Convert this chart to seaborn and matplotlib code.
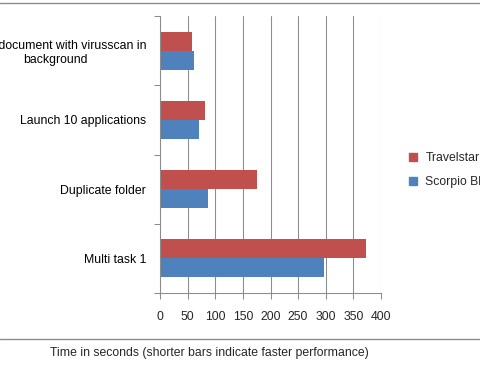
import pandas as pd
import matplotlib.pyplot as plt
import seaborn as sns
from matplotlib.lines import Line2D
from matplotlib.ticker import FixedLocator

# data
tasks = ["Open document with virusscan in\nbackground", "Launch 10 applications",
         "Duplicate folder", "Multi task 1"]
travelstar = [58, 81, 175, 373]
scorpio = [61, 70, 87, 296]
drives = ["Travelstar", "Scorpio Black"]
colors = ["#C0504D", "#4F81BD"]

df = pd.DataFrame({
    "task": tasks * 2,
    "drive": [drives[0]] * len(tasks) + [drives[1]] * len(tasks),
    "seconds": travelstar + scorpio,
})

sns.set_style("white")
plt.rcParams["font.family"] = ["Liberation Sans", "DejaVu Sans"]

fig = plt.figure(figsize=(4.8, 3.7), dpi=100)
ax = fig.add_axes([160 / 480, 1 - 293 / 370, 221 / 480, 277 / 370])

sns.barplot(data=df, y="task", x="seconds", hue="drive", hue_order=drives,
            palette=colors, orient="h", width=0.55, gap=0, saturation=1,
            linewidth=0, ax=ax, legend=False)

ax.set_xlim(0, 400)
ax.set_ylim(3.5, -0.5)
ax.set_xticks(range(0, 401, 50))
ax.xaxis.grid(True, color="#8c8c8c", linewidth=0.75)
ax.set_axisbelow(True)
ax.set_xlabel("")
ax.set_ylabel("")

# category separators as ticks on the y axis
ax.yaxis.set_minor_locator(FixedLocator([-0.5, 0.5, 1.5, 2.5, 3.5]))
ax.tick_params(axis="y", which="major", length=0, pad=10, labelsize=8.8, colors="black")
ax.tick_params(axis="y", which="minor", direction="out", length=4, width=0.75, color="#8c8c8c", left=True)
ax.tick_params(axis="x", direction="out", length=4, width=0.75, color="#8c8c8c",
               bottom=True, pad=9, labelsize=8.8)
for lab in ax.get_yticklabels():
    lab.set_multialignment("center")

for side in ["top", "right"]:
    ax.spines[side].set_visible(False)
for side in ["left", "bottom"]:
    ax.spines[side].set_color("#8c8c8c")
    ax.spines[side].set_linewidth(0.75)

handles = [Line2D([], [], marker="s", linestyle="", markersize=6,
                  markerfacecolor=c, markeredgecolor=c) for c in colors]
fig.legend(handles, drives, loc="center left", bbox_to_anchor=(396 / 480, 1 - 170 / 370),
           frameon=False, fontsize=8.8, handletextpad=0.0, labelspacing=1.0,
           borderaxespad=0)

# chart frame edges
fig.add_artist(Line2D([0, 1], [1 - 2.5 / 370] * 2, color="#8c8c8c", linewidth=1))
fig.add_artist(Line2D([0, 1], [1 - 339 / 370] * 2, color="#8c8c8c", linewidth=1))

fig.text(209 / 480, 1 - 353 / 370, "Time in seconds (shorter bars indicate faster performance)",
         ha="center", va="center", fontsize=8.8)

fig.savefig("out.png", dpi=100)
